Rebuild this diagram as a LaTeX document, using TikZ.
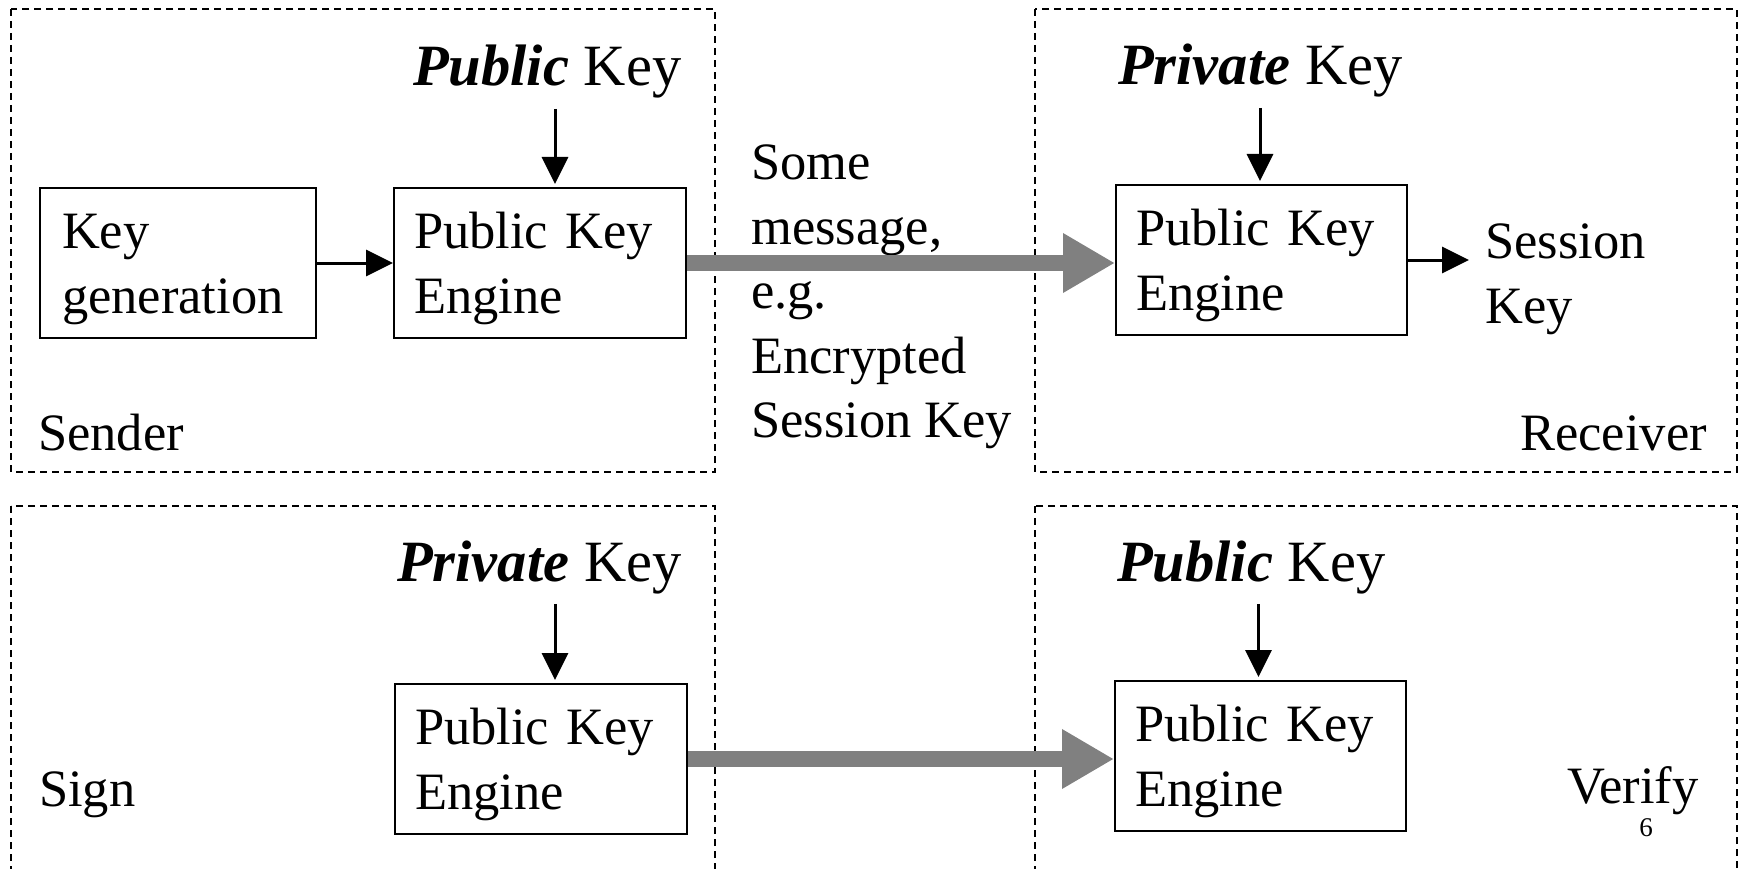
\documentclass[tikz,border=0pt]{standalone}
\usepackage{fontspec}
\setmainfont{Liberation Serif}
\usetikzlibrary{arrows.meta}
\definecolor{flowgray}{HTML}{808080}
\newcommand{\firstline}{\rule{0pt}{47pt}}
\begin{document}
\begin{tikzpicture}[x=1pt,y=-1pt,
  every node/.style={inner sep=0pt},
  bodytext/.style={font=\fontsize{52.5}{65}\selectfont},
  keylabel/.style={font=\fontsize{58.5}{70}\selectfont, anchor=base west},
  engine/.style={draw, line width=2pt, bodytext, align=left, inner xsep=20pt, minimum height=150pt},
  groupbox/.style={draw, dash pattern=on 7pt off 5pt, line width=1.5pt},
  feedarrow/.style={line width=3pt, -{Triangle[length=27pt,width=26pt]}},
  flowarrow/.style={line width=16pt, draw=flowgray, -{Triangle[length=52pt,width=56pt]}},
]
\useasboundingbox (0,0) rectangle (1739,869);

% dashed party frames
\draw[groupbox] (11,9) rectangle (715,472);
\draw[groupbox] (1035,9) rectangle (1737,472);
\draw[groupbox] (11,506) rectangle (715,900);
\draw[groupbox] (1035,506) rectangle (1737,900);

% encryption: sender and receiver
\node[engine, text width=232pt, inner xsep=22pt] (kg) at (178,263) {\firstline Key\\generation};
\node[engine, text width=252pt] (e1) at (540,263) {\firstline Public Key\\Engine};
\node[engine, text width=251pt] (e2) at (1261.5,260) {\firstline Public Key\\Engine};
\node[keylabel] (k1) at (413,86) {\textbf{\textit{Public}} Key};
\node[keylabel] (k2) at (1118,85) {\textbf{\textit{Private}} Key};

\node[bodytext, anchor=north west, align=left, font=\fontsize{52.5}{64.5}\selectfont] (msg) at (751,145)
  {Some\\message,\\e.g.\\Encrypted\\Session Key};
\node[bodytext, anchor=north west, align=left] (sk) at (1485,224) {Session\\Key};
\node[bodytext, anchor=base west] (snd) at (38,450) {Sender};
\node[bodytext, anchor=base east] (rcv) at (1707,450) {Receiver};

\draw[feedarrow, shorten <=10pt, shorten >=3pt] ([xshift=15pt]e1.north |- k1.south) -- ([xshift=15pt]e1.north);
\draw[feedarrow, shorten <=10pt, shorten >=3pt] ([xshift=-1.5pt]e2.north |- k2.south) -- ([xshift=-1.5pt]e2.north);
\draw[feedarrow] (kg.east) -- (e1.west);
\draw[feedarrow, shorten >=16pt] (e2.east) -- (e2.east -| sk.west);
\draw[flowarrow] (e1.east) -- (e2.west |- e1.east);

% signature: sign and verify
\node[engine, text width=252pt] (e3) at (541,759) {\firstline Public Key\\Engine};
\node[engine, text width=251pt] (e4) at (1260.5,756) {\firstline Public Key\\Engine};
\node[keylabel] (k3) at (397,581) {\textbf{\textit{Private}} Key};
\node[keylabel] (k4) at (1117,581) {\textbf{\textit{Public}} Key};
\node[bodytext, anchor=base west] (sgn) at (39,806) {Sign};
\node[bodytext, anchor=base west] (vfy) at (1567,803) {Verify};
\node[font=\fontsize{27}{30}\selectfont, anchor=base] (pg) at (1646,836) {6};

\draw[feedarrow, shorten <=10pt, shorten >=3pt] ([xshift=14pt]e3.north |- k3.south) -- ([xshift=14pt]e3.north);
\draw[feedarrow, shorten <=10pt, shorten >=3pt] ([xshift=-2pt]e4.north |- k4.south) -- ([xshift=-2pt]e4.north);
\draw[flowarrow] (e3.east) -- (e4.west |- e3.east);
\end{tikzpicture}
\end{document}
